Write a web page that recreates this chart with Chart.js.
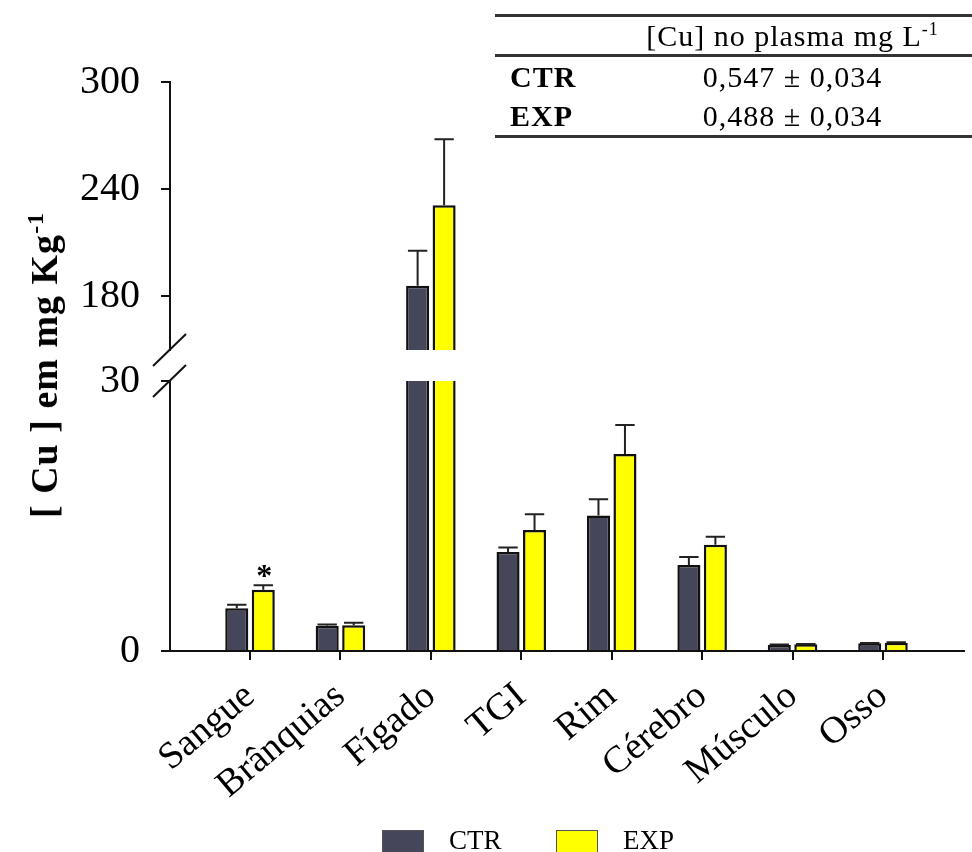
<!DOCTYPE html>
<html>
<head>
<meta charset="utf-8">
<script src="https://cdn.jsdelivr.net/npm/chart.js@4/dist/chart.umd.min.js"></script>
<style>
	body { margin: 0; background: #fff; }
	#wrap { position: relative; width: 972px; height: 852px; overflow: hidden; font-family: "Liberation Serif", "Times New Roman", serif; }
	#plasma { position: absolute; left: 495px; top: 14px; width: 477px; border-top: 3px solid #333; border-bottom: 3px solid #333; font-size: 30px; letter-spacing: 1px; }
	#plasma .row { height: 39px; line-height: 39px; white-space: nowrap; }
	#plasma .head { height: 37px; line-height: 37px; border-bottom: 3px solid #333; }
	#plasma .c1 { display: inline-block; width: 118px; padding-left: 15px; box-sizing: border-box; font-weight: bold; }
	#plasma .c2 { display: inline-block; width: 359px; text-align: center; }
	#plasma sup { font-size: 18px; line-height: 0; }
	#ytitle { position: absolute; left: 44px; top: 365px; transform: translate(-50%, -50%) rotate(-90deg); white-space: nowrap; font-weight: bold; font-size: 38px; letter-spacing: 1px; }
	#ytitle sup { font-size: 24px; line-height: 0; }
	#legend { position: absolute; top: 829px; left: 0; font-size: 27px; }
	#legend .box { position: absolute; top: 1px; width: 40px; height: 22px; border: 1.5px solid #555; }
	#legend .txt { position: absolute; top: -4px; white-space: nowrap; }
</style>
</head>
<body>
<div id="wrap">
	<canvas id="chart" width="972" height="852"></canvas>
	<div id="ytitle">[ Cu ] em mg Kg<sup>-1</sup></div>
	<div id="plasma"></div>
	<div id="legend"></div>
</div>
<script>
var categories = ['Sangue', 'Brânquias', 'Fígado', 'TGI', 'Rim', 'Cérebro', 'Músculo', 'Osso'];
var ctrMean = [4.75, 2.8, 186, 11.0, 15.05, 9.55, 0.67, 0.85];
var ctrErr = [0.4, 0.15, 19.5, 0.5, 1.8, 0.9, 0.05, 0.05];
var expMean = [6.8, 2.85, 231, 13.45, 21.9, 11.8, 0.74, 0.92];
var expErr = [0.5, 0.3, 37, 1.75, 3.2, 0.9, 0.05, 0.05];
var expSignif = ['*', '', '', '', '', '', '', ''];

var lowTicks = [0, 30];
var highTicks = [180, 240, 300];

var plasmaHeader = '[Cu] no plasma mg L<sup>-1</sup>';
var plasmaGroups = ['CTR', 'EXP'];
var plasmaMean = ['0,547', '0,488'];
var plasmaSd = ['0,034', '0,034'];

var ctrColor = '#46465a';
var expColor = '#ffff00';

function points(values) {
	return values.map(function (v, i) { return {x: i, y: v}; });
}

function buildTable() {
	var html = '<div class="row head"><span class="c1"></span><span class="c2">' + plasmaHeader + '</span></div>';
	for (var i = 0; i < plasmaGroups.length; i++)
		html += '<div class="row"><span class="c1">' + plasmaGroups[i] + '</span><span class="c2">' + plasmaMean[i] + ' ± ' + plasmaSd[i] + '</span></div>';
	document.getElementById('plasma').innerHTML = html;
}

function buildLegend() {
	var items = [['CTR', ctrColor, 382, 449], ['EXP', expColor, 556, 623]];
	var html = '';
	items.forEach(function (it) {
		html += '<div class="box" style="left:' + it[2] + 'px;background:' + it[1] + '"></div>';
		html += '<div class="txt" style="left:' + it[3] + 'px">' + it[0] + '</div>';
	});
	document.getElementById('legend').innerHTML = html;
}

// error bars and the asterisk
var errorBars = {
	id: 'errorBars',
	afterDatasetsDraw: function (chart) {
		var ctx = chart.ctx;
		var low = chart.scales.yLow, high = chart.scales.yHigh;
		[[0, ctrMean, ctrErr], [1, expMean, expErr]].forEach(function (s) {
			var meta = chart.getDatasetMeta(s[0]);
			meta.data.forEach(function (bar, i) {
				var v = s[1][i], e = s[2][i];
				var scale = v > low.max ? high : low;
				var y0 = scale.getPixelForValue(v);
				var y1 = scale.getPixelForValue(v + e);
				var half = bar.width * 0.42;
				ctx.save();
				ctx.strokeStyle = '#222';
				ctx.lineWidth = 2;
				ctx.beginPath();
				ctx.moveTo(bar.x, y0);
				ctx.lineTo(bar.x, y1);
				ctx.moveTo(bar.x - half, y1);
				ctx.lineTo(bar.x + half, y1);
				ctx.stroke();
				if (s[0] == 1 && expSignif[i]) {
					ctx.fillStyle = '#000';
					ctx.font = 'bold 32px "Liberation Serif"';
					ctx.textAlign = 'center';
					ctx.textBaseline = 'alphabetic';
					ctx.fillText(expSignif[i], bar.x + 1, y1 + 1);
				}
				ctx.restore();
			});
		});
	}
};

// the // marks on the broken axis
var axisBreak = {
	id: 'axisBreak',
	afterDraw: function (chart) {
		var ctx = chart.ctx;
		var x = chart.scales.yLow.right;
		var ys = [chart.scales.yHigh.bottom, chart.scales.yLow.top];
		ctx.save();
		ctx.strokeStyle = '#111';
		ctx.lineWidth = 2;
		ys.forEach(function (y) {
			ctx.beginPath();
			ctx.moveTo(x - 17, y + 16);
			ctx.lineTo(x + 16, y - 16);
			ctx.stroke();
		});
		ctx.restore();
	}
};

function yAxis(min, max, weight, ticks) {
	return {
		type: 'linear',
		position: 'left',
		stack: 'y',
		stackWeight: weight,
		stacked: false,
		min: min,
		max: max,
		afterFit: function (s) { s.width = 170; },
		afterBuildTicks: function (s) { s.ticks = ticks.map(function (t) { return {value: t}; }); },
		border: {display: true, color: '#111', width: 2},
		grid: {drawOnChartArea: false, tickLength: 9, color: '#111', lineWidth: 2},
		ticks: {
			color: '#000',
			padding: 21,
			font: {family: '"Liberation Serif", serif', size: 40}
		}
	};
}

function createChart() {
	var gap = {
		type: 'linear', position: 'left', stack: 'y', stackWeight: 31, min: 0, max: 1,
		afterFit: function (s) { s.width = 170; },
		border: {display: false}, grid: {display: false}, ticks: {display: false}
	};
	var barOpts = {
		backgroundColor: null, borderColor: '#111', borderWidth: 2.5,
		categoryPercentage: 0.586, barPercentage: 0.87
	};
	function ds(label, values, color, axis, stack) {
		return Object.assign({}, barOpts, {
			label: label, data: points(values), backgroundColor: color, yAxisID: axis, stack: stack
		});
	}
	new Chart(document.getElementById('chart'), {
		type: 'bar',
		data: {
			datasets: [
				ds('CTR', ctrMean, ctrColor, 'yLow', 'ctr'),
				ds('EXP', expMean, expColor, 'yLow', 'exp'),
				ds('CTR', ctrMean, ctrColor, 'yHigh', 'ctr'),
				ds('EXP', expMean, expColor, 'yHigh', 'exp')
			]
		},
		options: {
			responsive: false,
			animation: false,
			layout: {padding: {top: 82, right: 8, left: 0, bottom: 0}},
			plugins: {legend: {display: false}, tooltip: {enabled: false}},
			scales: {
				x: {
					type: 'linear',
					offset: false,
					min: -0.885,
					max: 7.896,
					afterFit: function (s) { s.height = 201; },
					afterBuildTicks: function (s) { s.ticks = categories.map(function (c, i) { return {value: i}; }); },
					border: {display: true, color: '#111', width: 2},
					grid: {offset: false, drawOnChartArea: false, tickLength: 9, color: '#111', lineWidth: 2},
					ticks: {
						color: '#000',
						autoSkip: false,
						minRotation: 40,
						maxRotation: 40,
						padding: 14,
						font: {family: '"Liberation Serif", serif', size: 38},
						callback: function (value) { return categories[value] || ''; }
					}
				},
				yLow: yAxis(0, 30, 270, lowTicks),
				yGap: gap,
				yHigh: yAxis(150, 300, 268, highTicks)
			}
		},
		plugins: [errorBars, axisBreak]
	});
}

buildTable();
buildLegend();
createChart();
</script>
</body>
</html>
